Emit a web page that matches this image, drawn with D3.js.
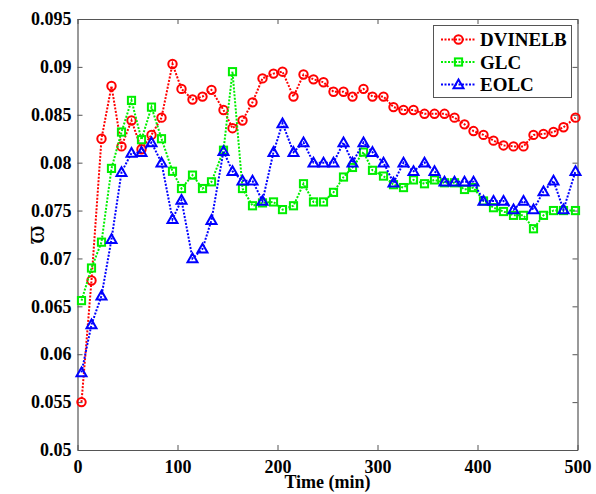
<!DOCTYPE html>
<html>
<head>
<meta charset="utf-8">
<script src="https://cdn.jsdelivr.net/npm/d3@7"></script>
<style>
  html, body { margin: 0; padding: 0; background: #fff; }
  svg { display: block; }
  svg text { font-family: "Liberation Serif", "Times New Roman", serif !important; font-weight: bold; fill: #000; }
</style>
</head>
<body>
<svg id="chart" width="596" height="494"></svg>
<script>
// Sampling times (min)
const times = [4,14,24,34,44,54,64,74,84,95,104,115,125,134,146,155,165,175,185,196,
  205,216,226,236,246,256,266,275,286,295,306,316,326,336,347,357,367,377,387,396,
  406,416,426,436,446,456,466,476,486,498];

const dvinelb = [0.0550,0.0677,0.0825,0.0880,0.0817,0.0844,0.0814,0.0829,0.0847,0.0903,
  0.0877,0.0866,0.0869,0.0876,0.0855,0.0836,0.0844,0.0863,0.0888,0.0893,
  0.0895,0.0869,0.0892,0.0887,0.0884,0.0874,0.0874,0.0869,0.0877,0.0869,
  0.0869,0.0858,0.0855,0.0855,0.0851,0.0851,0.0851,0.0847,0.0840,0.0833,
  0.0829,0.0823,0.0818,0.0817,0.0817,0.0829,0.0830,0.0832,0.0837,0.0847];

const glc = [0.0656,0.0690,0.0717,0.0794,0.0832,0.0865,0.0824,0.0858,0.0825,0.0791,
  0.0773,0.0787,0.0773,0.0780,0.0813,0.0895,0.0773,0.0755,0.0758,0.0759,
  0.0751,0.0755,0.0778,0.0759,0.0759,0.0769,0.0785,0.0795,0.0811,0.0792,
  0.0786,0.0777,0.0774,0.0782,0.0778,0.0782,0.0779,0.0779,0.0772,0.0774,
  0.0760,0.0753,0.0749,0.0745,0.0745,0.0731,0.0745,0.0750,0.0750,0.0750];

const eolc = [0.0581,0.0631,0.0661,0.0720,0.0790,0.0810,0.0811,0.0821,0.0800,0.0741,
  0.0761,0.0700,0.0710,0.0740,0.0812,0.0791,0.0781,0.0781,0.0760,0.0811,
  0.0841,0.0811,0.0821,0.0800,0.0800,0.0800,0.0821,0.0800,0.0821,0.0811,
  0.0800,0.0779,0.0800,0.0791,0.0800,0.0791,0.0780,0.0780,0.0780,0.0780,
  0.0760,0.0760,0.0760,0.0751,0.0760,0.0751,0.0770,0.0781,0.0751,0.0791];

const xTicks = [0, 100, 200, 300, 400, 500];
const yTicks = [0.05, 0.055, 0.06, 0.065, 0.07, 0.075, 0.08, 0.085, 0.09, 0.095];
const yTickLabels = ["0.05","0.055","0.06","0.065","0.07","0.075","0.08","0.085","0.09","0.095"];

const seriesNames = ["DVINELB", "GLC", "EOLC"];
const seriesValues = [dvinelb, glc, eolc];
const seriesColors = ["#ff0000", "#00ee00", "#0000ff"];
const seriesMarkers = ["circle", "square", "triangle"];

const svg = d3.select("#chart");
const plot = { left: 77.5, right: 577.5, top: 19, bottom: 450 };
const serif = '"Liberation Serif", "Times New Roman", serif';

const x = d3.scaleLinear().domain([0, 500]).range([plot.left, plot.right]);
const y = d3.scaleLinear().domain([0.05, 0.095]).range([plot.bottom, plot.top]);

const axisColor = "#555";

// Axes with inward ticks on all four sides
const gx = svg.append("g").attr("transform", `translate(0,${plot.bottom})`)
  .call(d3.axisBottom(x).tickValues(xTicks).tickSizeInner(-5).tickSizeOuter(0).tickPadding(9).tickFormat(d3.format("d")));
const gxTop = svg.append("g").attr("transform", `translate(0,${plot.top})`)
  .call(d3.axisTop(x).tickValues(xTicks).tickSizeInner(-5).tickSizeOuter(0).tickFormat(""));
const gy = svg.append("g").attr("transform", `translate(${plot.left},0)`)
  .call(d3.axisLeft(y).tickValues(yTicks).tickSizeInner(-5).tickSizeOuter(0).tickPadding(6)
    .tickFormat((d, i) => yTickLabels[i]));
const gyRight = svg.append("g").attr("transform", `translate(${plot.right},0)`)
  .call(d3.axisRight(y).tickValues(yTicks).tickSizeInner(-5).tickSizeOuter(0).tickFormat(""));

[gx, gxTop, gy, gyRight].forEach(g => {
  g.attr("font-family", serif);
  g.select(".domain").attr("stroke", axisColor).attr("stroke-width", 1.2);
  g.selectAll(".tick line").attr("stroke", axisColor).attr("stroke-width", 1);
  g.selectAll(".tick text").style("font-size", "18px")
    .style("font-family", serif).style("font-weight", "bold").attr("fill", "#000");
});
gx.selectAll(".tick text").attr("dy", "0.78em");

// Axis titles
svg.append("text").attr("x", (plot.left + plot.right) / 2).attr("y", 488)
  .attr("text-anchor", "middle").style("font-size", "18px").text("Time (min)");
svg.append("text").attr("transform", `translate(44,${(plot.top + plot.bottom) / 2}) rotate(-90)`)
  .attr("text-anchor", "middle").style("font-size", "28px").style("font-weight", "normal").text("ϖ");

// Marker drawing
function drawMarker(g, type, cx, cy, color) {
  if (type === "circle") {
    g.append("circle").attr("cx", cx).attr("cy", cy).attr("r", 4.2)
      .attr("fill", "none").attr("stroke", color).attr("stroke-width", 2);
  } else if (type === "square") {
    g.append("rect").attr("x", cx - 3.6).attr("y", cy - 3.6).attr("width", 7.2).attr("height", 7.2)
      .attr("fill", "none").attr("stroke", color).attr("stroke-width", 2);
  } else {
    const s = 5;
    g.append("path").attr("d", `M${cx},${cy - s}L${cx + s},${cy + s * 0.75}L${cx - s},${cy + s * 0.75}Z`)
      .attr("fill", "none").attr("stroke", color).attr("stroke-width", 2).attr("stroke-linejoin", "miter");
  }
}

const line = d3.line().x((d, i) => x(times[i])).y(d => y(d));

seriesValues.forEach((vals, k) => {
  const g = svg.append("g");
  g.append("path").datum(vals).attr("d", line)
    .attr("fill", "none").attr("stroke", seriesColors[k]).attr("stroke-width", 2)
    .attr("stroke-dasharray", "2,1.5");
  vals.forEach((v, i) => drawMarker(g, seriesMarkers[k], x(times[i]), y(v), seriesColors[k]));
});

// Legend
const lg = svg.append("g");
lg.append("rect").attr("x", 433.5).attr("y", 25.5).attr("width", 138).attr("height", 72)
  .attr("fill", "#fff").attr("stroke", axisColor).attr("stroke-width", 1);
seriesNames.forEach((name, k) => {
  const cy = 39.5 + k * 22.5;
  lg.append("line").attr("x1", 441).attr("x2", 476).attr("y1", cy).attr("y2", cy)
    .attr("stroke", seriesColors[k]).attr("stroke-width", 2).attr("stroke-dasharray", "2,1.5");
  drawMarker(lg, seriesMarkers[k], 458.5, cy, seriesColors[k]);
  lg.append("text").attr("x", 480).attr("y", cy + 6.5).style("font-size", "19px").text(name);
});
</script>
</body>
</html>
